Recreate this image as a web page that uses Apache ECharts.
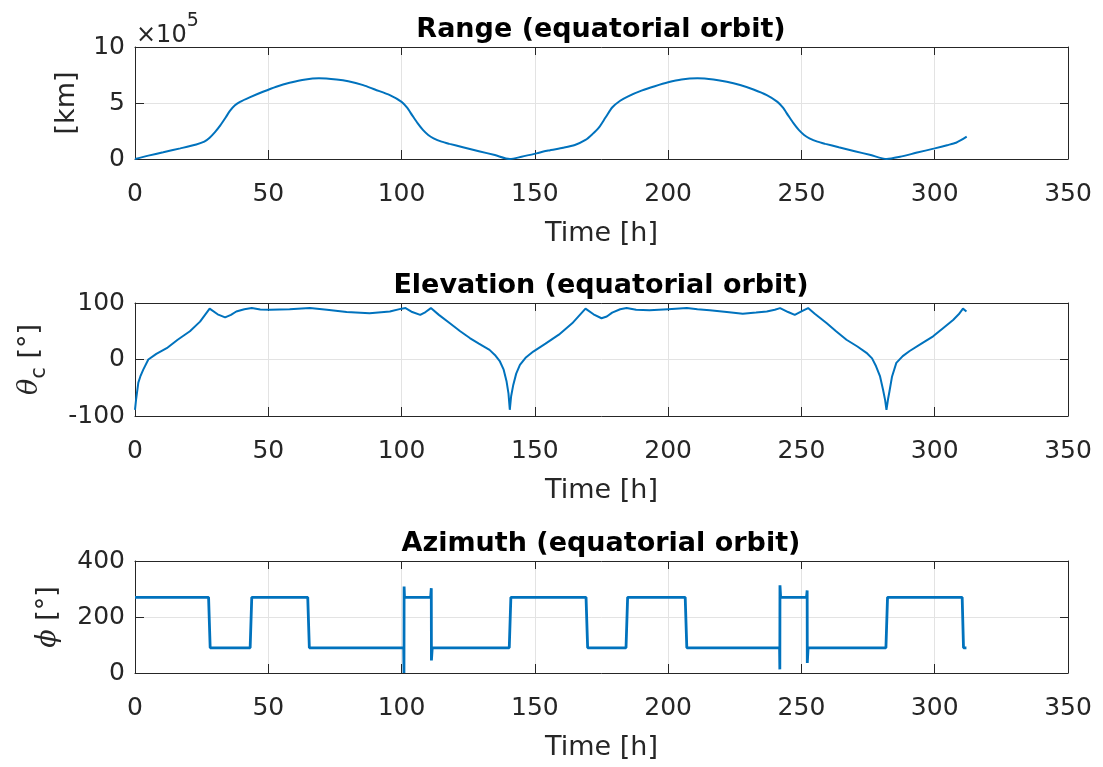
<!DOCTYPE html>
<html>
<head>
<meta charset="utf-8">
<script src="https://cdn.jsdelivr.net/npm/echarts/dist/echarts.min.js"></script>
<style>
html, body { margin: 0; padding: 0; background: #fff; }
#main { width: 1103px; height: 767px; }
</style>
</head>
<body>
<div id="main"></div>
<script>
// tick values
var timeTicks = [0, 50, 100, 150, 200, 250, 300, 350];
var rangeTicks = [0, 5, 10];          // x 10^5 km
var elevTicks = [-100, 0, 100];
var azTicks = [0, 200, 400];

// range (x 10^5 km) vs time [h]
var rangeT = [0, 5, 10.6, 17, 23, 26, 28, 30, 32, 34, 35.6, 37.5, 39.4, 43, 48, 53, 58, 64, 69, 75.6, 80, 85.6, 90, 95.6,
    100, 102, 104, 106, 108, 110, 112, 115, 118, 123, 129, 135, 140.6, 145, 150.6, 155, 160.6, 165, 169, 171.5, 174, 176.5,
    179, 182, 185, 190, 195, 200, 205, 211, 217, 222, 227, 232, 237, 241, 243, 245, 247, 249, 251, 253, 256, 259, 264, 270,
    276, 282, 287, 293, 300, 305, 308, 310, 312];
var rangeV = [0, 0.3, 0.6, 0.95, 1.3, 1.55, 1.9, 2.4, 3.0, 3.7, 4.3, 4.8, 5.1, 5.5, 6.0, 6.45, 6.8, 7.1, 7.2, 7.1, 6.95, 6.6, 6.2, 5.7,
    5.1, 4.6, 3.9, 3.2, 2.6, 2.15, 1.85, 1.55, 1.35, 1.05, 0.7, 0.35, 0, 0.2, 0.5, 0.75, 1.0, 1.25, 1.7, 2.2, 2.8, 3.7,
    4.6, 5.2, 5.6, 6.1, 6.5, 6.85, 7.1, 7.2, 7.1, 6.9, 6.6, 6.2, 5.7, 5.1, 4.6, 3.9, 3.2, 2.6, 2.15, 1.85, 1.55, 1.35, 1.05, 0.7,
    0.35, 0, 0.2, 0.55, 0.95, 1.25, 1.45, 1.7, 2.0];

// elevation theta_c [deg] vs time [h]
var elevT = [0, 0.4, 1.25, 2, 3.1, 5, 8, 11.9, 16, 20.6, 24.4, 28, 31, 33.8, 36, 38, 41, 43.8, 47, 50.6, 58, 65.6, 72, 79.4, 88,
    95.6, 100, 101.5, 104, 107, 109, 111, 114, 118, 122, 125.6, 129, 133, 135, 136.9, 138.3, 139.4, 140.1, 140.6, 141.1, 141.9,
    143, 144.4, 146.5, 149.4, 154, 159, 164, 169, 172, 175, 177, 179, 182, 184.4, 188, 193, 200, 207, 211, 215.6, 222, 228,
    233, 237, 240, 242, 245, 247.5, 250, 252.5, 255, 259.4, 263, 266.9, 271, 274.4, 276.5, 278, 279.5, 280.6, 281.4, 281.9,
    282.5, 283, 284, 285.6, 288, 290.6, 295, 299.4, 303, 306.9, 309, 310.6, 311.9];
var elevV = [-89, -71, -41, -30, -18, 0, 10, 20, 35, 50, 67, 90, 80, 74.5, 79, 85, 89, 91, 88.5, 88, 89, 91, 88, 84, 82,
    85, 90, 91, 84, 79, 84, 91, 79, 64.5, 50, 38, 28, 17, 8, -3.5, -18, -39, -60, -89, -65, -45,
    -25, -9.5, 3, 14, 28, 44, 64, 90, 80, 73, 76, 83, 89, 91, 88, 87, 89, 91, 89, 87, 84, 81,
    83, 85, 88, 91, 84, 79, 85, 91, 81, 64.5, 50, 35, 23, 11.8, 2, -12, -30, -53, -72, -89,
    -70, -57, -30, -6, 6, 15, 28, 41, 55, 70, 80, 90, 85];

// azimuth phi [deg] vs time [h]
var azT = [0, 27.6, 28.2, 43.2, 43.8, 64.8, 65.4, 100.8, 100.9, 100.95, 101.1, 110.9, 111.15, 111.2, 111.5, 140.4, 141,
    169.2, 169.8, 184.2, 184.8, 206.4, 207, 241.8, 241.9, 241.95, 242.2, 251.9, 252.15, 252.2, 252.5, 281.7, 282.3,
    310.3, 310.8, 311.9];
var azV = [270, 270, 90, 90, 270, 270, 90, 90, 0, 309, 270, 270, 303, 45, 90, 90, 270,
    270, 90, 90, 270, 270, 90, 90, 13, 313, 270, 270, 295, 36, 90, 90, 270,
    270, 90, 90];

var docChart = document.getElementById('main');
var myChart = echarts.init(docChart);

var FONT = 'DejaVu Sans';
var INK = '#262626';
var BLUE = '#0072BD';
var gridTops = [47, 303, 561];
var gridHeights = [112, 113, 112];

function zip(t, v) {
    return t.map(function (x, i) { return [x, v[i]]; });
}

function step(ticks) {
    return ticks[1] - ticks[0];
}

var grids = [], xAxes = [], yAxes = [], titles = [];
var titleTexts = ['Range (equatorial orbit)', 'Elevation (equatorial orbit)', 'Azimuth (equatorial orbit)'];
var yTicks = [rangeTicks, elevTicks, azTicks];
var yNames = ['[km]', '{th|θ}{sub|c}{n| [°]}', '{th|ϕ}{n| [°]}'];
var yGaps = [55, 85, 67];

var nameRich = {
    th: { fontFamily: 'DejaVu Serif', fontStyle: 'italic', fontSize: 27, color: INK, lineHeight: 40, verticalAlign: 'middle' },
    sub: { fontFamily: FONT, fontSize: 21, color: INK, verticalAlign: 'bottom' },
    n: { fontFamily: FONT, fontSize: 27, color: INK, lineHeight: 40, verticalAlign: 'middle' }
};

for (var i = 0; i < 3; i++) {
    grids.push({ left: 135, right: 35, top: gridTops[i], height: gridHeights[i], show: false });
    titles.push({
        text: titleTexts[i],
        left: 596,
        textAlign: 'center',
        top: gridTops[i] - 36,
        textStyle: { fontFamily: FONT, fontWeight: 'bold', fontSize: 27, color: '#000' }
    });
    // bottom axis with labels
    xAxes.push({
        type: 'value', gridIndex: i, position: 'bottom',
        min: timeTicks[0], max: timeTicks[timeTicks.length - 1], interval: step(timeTicks),
        name: 'Time [h]', nameLocation: 'middle', nameGap: 61,
        nameTextStyle: { fontFamily: FONT, fontSize: 27, color: INK },
        axisLine: { onZero: false, lineStyle: { color: INK, width: 1 } },
        axisTick: { inside: true, length: 9, lineStyle: { color: INK } },
        axisLabel: { margin: 23, fontFamily: FONT, fontSize: 25, color: INK },
        splitLine: { show: true, lineStyle: { color: '#e3e3e3', width: 1 } }
    });
    // top box edge
    xAxes.push({
        type: 'value', gridIndex: i, position: 'top',
        min: timeTicks[0], max: timeTicks[timeTicks.length - 1], interval: step(timeTicks),
        axisLine: { onZero: false, lineStyle: { color: INK, width: 1 } },
        axisTick: { inside: true, length: 8, lineStyle: { color: INK } },
        axisLabel: { show: false },
        splitLine: { show: false }
    });
    var yt = yTicks[i];
    yAxes.push({
        type: 'value', gridIndex: i, position: 'left',
        min: yt[0], max: yt[yt.length - 1], interval: step(yt),
        name: yNames[i], nameLocation: 'middle', nameRotate: 90, nameGap: yGaps[i],
        nameTextStyle: { fontFamily: FONT, fontSize: 27, color: INK, rich: nameRich },
        axisLine: { onZero: false, lineStyle: { color: INK, width: 1 } },
        axisTick: { inside: true, length: 9, lineStyle: { color: INK } },
        axisLabel: { margin: 10, fontFamily: FONT, fontSize: 25, color: INK },
        splitLine: { show: true, lineStyle: { color: '#e3e3e3', width: 1 } }
    });
    yAxes.push({
        type: 'value', gridIndex: i, position: 'right',
        min: yt[0], max: yt[yt.length - 1], interval: step(yt),
        axisLine: { onZero: false, lineStyle: { color: INK, width: 1 } },
        axisTick: { inside: true, length: 8, lineStyle: { color: INK } },
        axisLabel: { show: false },
        splitLine: { show: false }
    });
}
// first plot is not a rich name
yAxes[0].nameTextStyle = { fontFamily: FONT, fontSize: 27, color: INK };

var option = {
    animation: false,
    backgroundColor: '#fff',
    title: titles,
    grid: grids,
    xAxis: xAxes,
    yAxis: yAxes,
    graphic: [{
        type: 'text',
        left: 136,
        top: 12,
        style: {
            text: '{a|×10}{b|5}',
            rich: {
                a: { fontFamily: FONT, fontSize: 24, fill: INK, lineHeight: 36, verticalAlign: 'bottom' },
                b: { fontFamily: FONT, fontSize: 19, fill: INK, verticalAlign: 'top' }
            }
        }
    }],
    series: [{
        type: 'line', xAxisIndex: 0, yAxisIndex: 0,
        data: zip(rangeT, rangeV), smooth: 0.25, showSymbol: false,
        lineStyle: { color: BLUE, width: 2 }
    }, {
        type: 'line', xAxisIndex: 2, yAxisIndex: 2,
        data: zip(elevT, elevV), showSymbol: false,
        lineStyle: { color: BLUE, width: 2 }
    }, {
        type: 'line', xAxisIndex: 4, yAxisIndex: 4,
        data: zip(azT, azV), showSymbol: false,
        lineStyle: { color: BLUE, width: 2.8 }
    }]
};

myChart.setOption(option);
</script>
</body>
</html>
